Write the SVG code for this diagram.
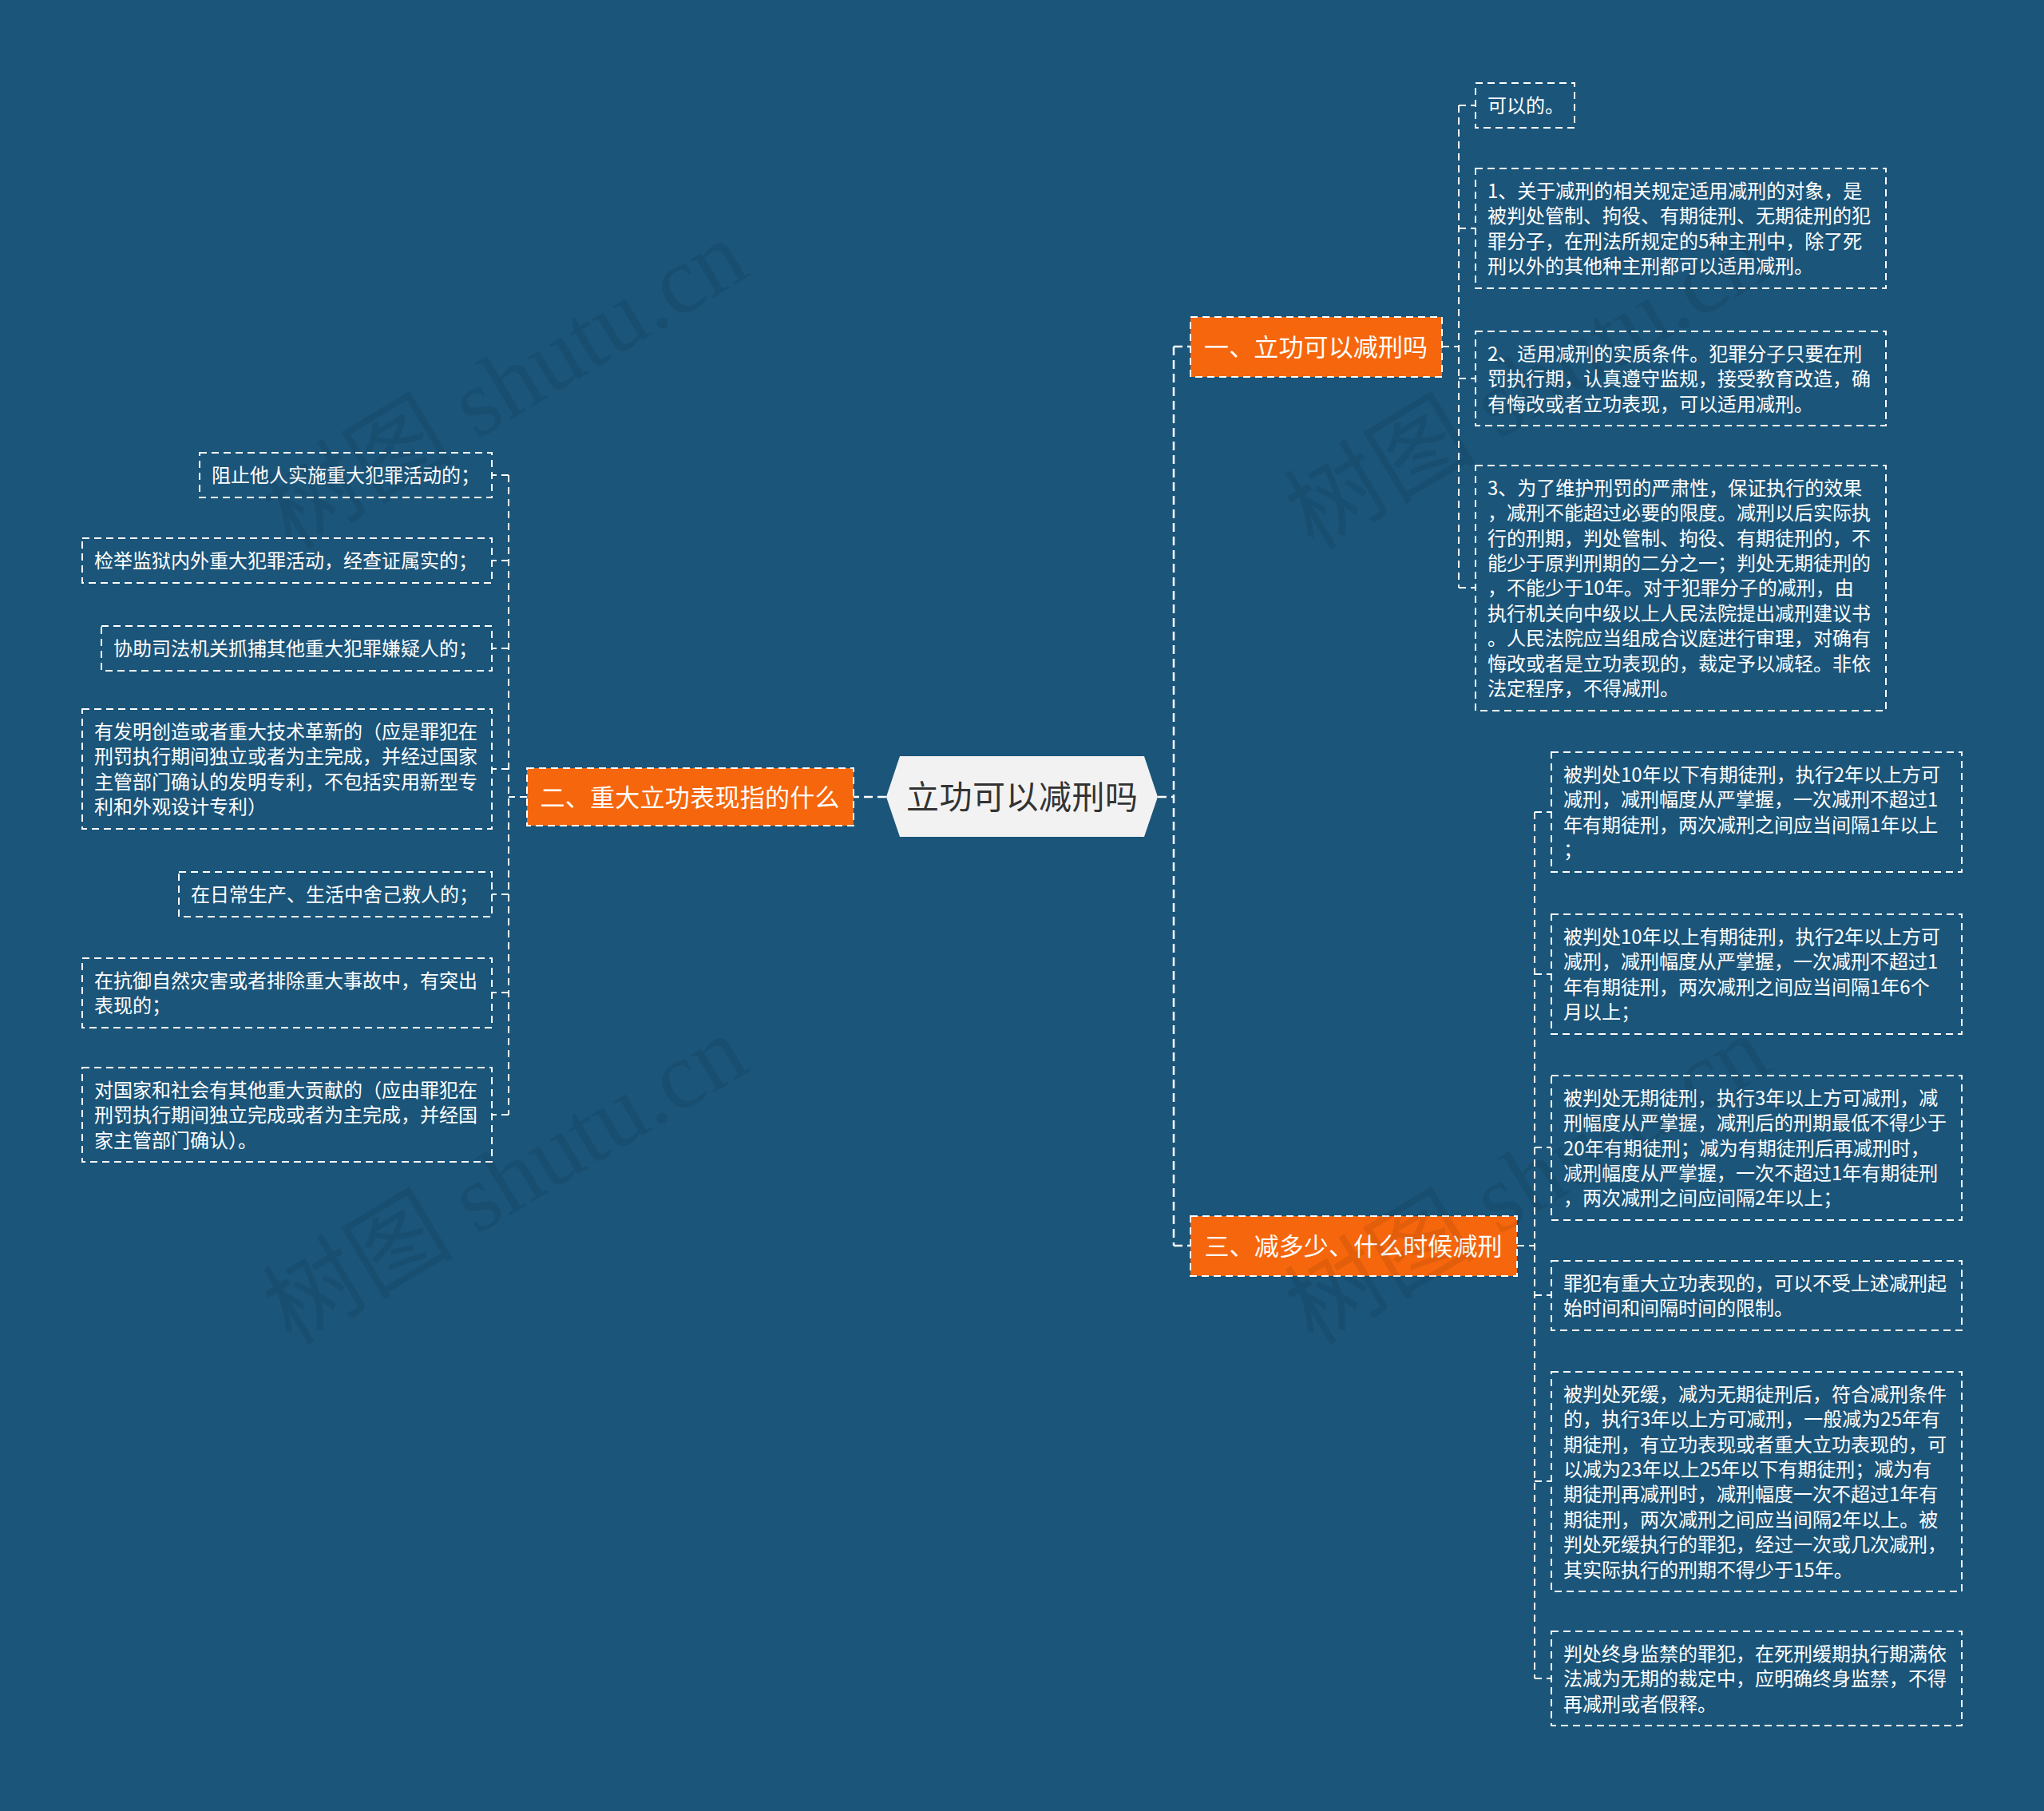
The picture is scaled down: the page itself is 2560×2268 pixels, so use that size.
<svg xmlns="http://www.w3.org/2000/svg" width="2560" height="2268" viewBox="0 0 2560 2268">
<style>
.bg{fill:#1b557a}
.t{font-family:"Noto Sans CJK SC","Microsoft YaHei",sans-serif;font-size:24px;fill:#ffffff}
.box{fill:none;stroke:#ffffff;stroke-width:2;stroke-dasharray:9 6}
.br{fill:#f6660c;stroke:#ffffff;stroke-width:2;stroke-dasharray:9 6}
.bt{font-family:"Noto Sans CJK SC","Microsoft YaHei",sans-serif;font-size:31px;fill:#ffffff;text-anchor:middle}
.rt{font-family:"Noto Sans CJK SC","Microsoft YaHei",sans-serif;font-size:41px;fill:#333333;text-anchor:middle}
.link{fill:none;stroke:#ffffff;stroke-width:2;stroke-dasharray:9 6}
.main{fill:none;stroke:#ffffff;stroke-width:2.5;stroke-dasharray:11 6}
.wm{font-family:"Liberation Serif","Noto Sans CJK SC",serif;font-size:120px;fill:#000000;fill-opacity:0.08}
</style>
<rect class="bg" x="0" y="0" width="2560" height="2268"/>

<g id="connectors">
  <path class="main" d="M1450 998 H1470 M1470 434 V1560 M1470 434 H1491 M1470 1560 H1491"/>
  <path class="main" d="M1110 998 H1069"/>
  <path class="link" d="M1806 434 H1827 M1827 132 V736 M1827 132 H1848 M1827 286 H1848 M1827 474 H1848 M1827 736 H1848"/>
  <path class="link" d="M1900 1560 H1922 M1922 1017 V2102 M1922 1017 H1943 M1922 1220 H1943 M1922 1437 H1943 M1922 1622 H1943 M1922 1855 H1943 M1922 2102 H1943"/>
  <path class="link" d="M660 998 H637 M637 595 V1396 M637 595 H616 M637 702 H616 M637 812 H616 M637 963 H616 M637 1120 H616 M637 1243 H616 M637 1396 H616"/>
</g>

<g id="root">
  <polygon points="1110,998 1127,947 1433,947 1450,998 1433,1048 1127,1048" fill="#f2f2f2"/>
  <text class="rt" x="1280" y="1013" textLength="290" lengthAdjust="spacing">立功可以减刑吗</text>
</g>

<g id="branch1">
  <rect class="br" x="1491" y="397" width="315" height="75"/>
  <text class="bt" x="1648" y="446" textLength="280" lengthAdjust="spacing">一、立功可以减刑吗</text>
</g>
<g id="branch2">
  <rect class="br" x="660" y="962" width="409" height="72"/>
  <text class="bt" x="864" y="1010" textLength="375" lengthAdjust="spacing">二、重大立功表现指的什么</text>
</g>
<g id="branch3">
  <rect class="br" x="1491" y="1523" width="409" height="75"/>
  <text class="bt" x="1695" y="1572" textLength="373" lengthAdjust="spacing">三、减多少、什么时候减刑</text>
</g>

<g id="k0">
  <rect class="box" x="1848" y="104" width="124" height="56"/>
  <text class="t"><tspan x="1863" y="141">可以的。</tspan></text>
</g>
<g id="k1">
  <rect class="box" x="1848" y="211" width="514" height="150"/>
  <text class="t"><tspan x="1863" y="248">1、关于减刑的相关规定适用减刑的对象，是</tspan><tspan x="1863" y="279">被判处管制、拘役、有期徒刑、无期徒刑的犯</tspan><tspan x="1863" y="311">罪分子，在刑法所规定的5种主刑中，除了死</tspan><tspan x="1863" y="342">刑以外的其他种主刑都可以适用减刑。</tspan></text>
</g>
<g id="k2">
  <rect class="box" x="1848" y="415" width="514" height="118"/>
  <text class="t"><tspan x="1863" y="452">2、适用减刑的实质条件。犯罪分子只要在刑</tspan><tspan x="1863" y="483">罚执行期，认真遵守监规，接受教育改造，确</tspan><tspan x="1863" y="515">有悔改或者立功表现，可以适用减刑。</tspan></text>
</g>
<g id="k3">
  <rect class="box" x="1848" y="583" width="514" height="307"/>
  <text class="t"><tspan x="1863" y="620">3、为了维护刑罚的严肃性，保证执行的效果</tspan><tspan x="1863" y="651">，减刑不能超过必要的限度。减刑以后实际执</tspan><tspan x="1863" y="683">行的刑期，判处管制、拘役、有期徒刑的，不</tspan><tspan x="1863" y="714">能少于原判刑期的二分之一；判处无期徒刑的</tspan><tspan x="1863" y="745">，不能少于10年。对于犯罪分子的减刑，由</tspan><tspan x="1863" y="777">执行机关向中级以上人民法院提出减刑建议书</tspan><tspan x="1863" y="808">。人民法院应当组成合议庭进行审理，对确有</tspan><tspan x="1863" y="840">悔改或者是立功表现的，裁定予以减轻。非依</tspan><tspan x="1863" y="871">法定程序，不得减刑。</tspan></text>
</g>

<g id="c1">
  <rect class="box" x="1943" y="942" width="514" height="150"/>
  <text class="t"><tspan x="1958" y="979">被判处10年以下有期徒刑，执行2年以上方可</tspan><tspan x="1958" y="1010">减刑，减刑幅度从严掌握，一次减刑不超过1</tspan><tspan x="1958" y="1042">年有期徒刑，两次减刑之间应当间隔1年以上</tspan><tspan x="1958" y="1073">；</tspan></text>
</g>
<g id="c2">
  <rect class="box" x="1943" y="1145" width="514" height="150"/>
  <text class="t"><tspan x="1958" y="1182">被判处10年以上有期徒刑，执行2年以上方可</tspan><tspan x="1958" y="1213">减刑，减刑幅度从严掌握，一次减刑不超过1</tspan><tspan x="1958" y="1245">年有期徒刑，两次减刑之间应当间隔1年6个</tspan><tspan x="1958" y="1276">月以上；</tspan></text>
</g>
<g id="c3">
  <rect class="box" x="1943" y="1347" width="514" height="181"/>
  <text class="t"><tspan x="1958" y="1384">被判处无期徒刑，执行3年以上方可减刑，减</tspan><tspan x="1958" y="1415">刑幅度从严掌握，减刑后的刑期最低不得少于</tspan><tspan x="1958" y="1447">20年有期徒刑；减为有期徒刑后再减刑时，</tspan><tspan x="1958" y="1478">减刑幅度从严掌握，一次不超过1年有期徒刑</tspan><tspan x="1958" y="1509">，两次减刑之间应间隔2年以上；</tspan></text>
</g>
<g id="c4">
  <rect class="box" x="1943" y="1579" width="514" height="87"/>
  <text class="t"><tspan x="1958" y="1616">罪犯有重大立功表现的，可以不受上述减刑起</tspan><tspan x="1958" y="1647">始时间和间隔时间的限制。</tspan></text>
</g>
<g id="c5">
  <rect class="box" x="1943" y="1718" width="514" height="275"/>
  <text class="t"><tspan x="1958" y="1755">被判处死缓，减为无期徒刑后，符合减刑条件</tspan><tspan x="1958" y="1786">的，执行3年以上方可减刑，一般减为25年有</tspan><tspan x="1958" y="1818">期徒刑，有立功表现或者重大立功表现的，可</tspan><tspan x="1958" y="1849">以减为23年以上25年以下有期徒刑；减为有</tspan><tspan x="1958" y="1880">期徒刑再减刑时，减刑幅度一次不超过1年有</tspan><tspan x="1958" y="1912">期徒刑，两次减刑之间应当间隔2年以上。被</tspan><tspan x="1958" y="1943">判处死缓执行的罪犯，经过一次或几次减刑，</tspan><tspan x="1958" y="1975">其实际执行的刑期不得少于15年。</tspan></text>
</g>
<g id="c6">
  <rect class="box" x="1943" y="2043" width="514" height="118"/>
  <text class="t"><tspan x="1958" y="2080">判处终身监禁的罪犯，在死刑缓期执行期满依</tspan><tspan x="1958" y="2111">法减为无期的裁定中，应明确终身监禁，不得</tspan><tspan x="1958" y="2143">再减刑或者假释。</tspan></text>
</g>

<g id="l1">
  <rect class="box" x="250" y="567" width="366" height="56"/>
  <text class="t"><tspan x="265" y="604">阻止他人实施重大犯罪活动的；</tspan></text>
</g>
<g id="l2">
  <rect class="box" x="103" y="674" width="513" height="56"/>
  <text class="t"><tspan x="118" y="711">检举监狱内外重大犯罪活动，经查证属实的；</tspan></text>
</g>
<g id="l3">
  <rect class="box" x="127" y="784" width="489" height="56"/>
  <text class="t"><tspan x="142" y="821">协助司法机关抓捕其他重大犯罪嫌疑人的；</tspan></text>
</g>
<g id="l4">
  <rect class="box" x="103" y="888" width="513" height="150"/>
  <text class="t"><tspan x="118" y="925">有发明创造或者重大技术革新的（应是罪犯在</tspan><tspan x="118" y="956">刑罚执行期间独立或者为主完成，并经过国家</tspan><tspan x="118" y="988">主管部门确认的发明专利，不包括实用新型专</tspan><tspan x="118" y="1019">利和外观设计专利）</tspan></text>
</g>
<g id="l5">
  <rect class="box" x="224" y="1092" width="392" height="56"/>
  <text class="t"><tspan x="239" y="1129">在日常生产、生活中舍己救人的；</tspan></text>
</g>
<g id="l6">
  <rect class="box" x="103" y="1200" width="513" height="87"/>
  <text class="t"><tspan x="118" y="1237">在抗御自然灾害或者排除重大事故中，有突出</tspan><tspan x="118" y="1268">表现的；</tspan></text>
</g>
<g id="l7">
  <rect class="box" x="103" y="1337" width="513" height="118"/>
  <text class="t"><tspan x="118" y="1374">对国家和社会有其他重大贡献的（应由罪犯在</tspan><tspan x="118" y="1405">刑罚执行期间独立完成或者为主完成，并经国</tspan><tspan x="118" y="1437">家主管部门确认）。</tspan></text>
</g>

<g id="watermarks">
  <text class="wm" transform="translate(365 690) rotate(-31)">树图 shutu.cn</text>
  <text class="wm" transform="translate(365 1686) rotate(-31)">树图 shutu.cn</text>
  <text class="wm" transform="translate(1645 690) rotate(-31)">树图 shutu.cn</text>
  <text class="wm" transform="translate(1645 1686) rotate(-31)">树图 shutu.cn</text>
</g>
</svg>
